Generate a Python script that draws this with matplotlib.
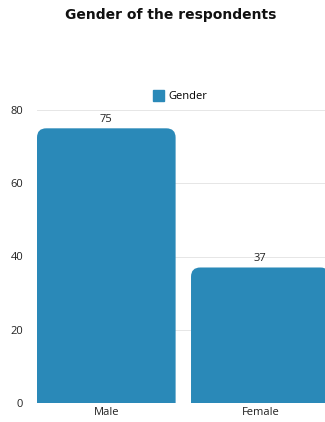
import matplotlib.pyplot as plt
from matplotlib.patches import FancyBboxPatch, Patch

categories = ['Male', 'Female']
counts = [75, 37]
yticks = [0, 20, 40, 60, 80]

bar_color = '#2a89b8'

plt.rcParams['font.family'] = ['Open Sans', 'DejaVu Sans']

fig = plt.figure(figsize=(3.25, 4.22), dpi=100)
ax = fig.add_axes([37/325, 19/422, 288/325, 293/422])

bars = ax.bar(range(len(categories)), counts, width=0.9, color=bar_color)
ax.set_xlim(-0.45, 1.42)
ax.set_ylim(0, 80)

# swap plain bars for ones with rounded top corners (bottom corners fall below 0 and get clipped)
r = 0.06
asp = 80 / 293 * 288 / 1.87
for b in bars:
    x, y = b.get_x(), b.get_y()
    w, h = b.get_width(), b.get_height()
    b.set_visible(False)
    ax.add_patch(FancyBboxPatch((x + r, y), w - 2*r, h - r*asp,
                                boxstyle='round,pad=%f' % r, mutation_aspect=asp,
                                color=bar_color, lw=0))
    ax.text(x + w/2, h + 1.0, str(h), ha='center', va='bottom', fontsize=8, color='#222222')

ax.set_xticks(range(len(categories)))
ax.set_xticklabels(categories, fontsize=8, color='#222222')
ax.set_yticks(yticks)
ax.set_yticklabels([str(t) for t in yticks], fontsize=8, color='#222222')
ax.tick_params(length=0, pad=10)
ax.tick_params(axis='x', pad=3)
ax.grid(axis='y', color='#e6e6e6', lw=0.7)
ax.set_axisbelow(True)
for s in ax.spines.values():
    s.set_visible(False)

fig.text(171/325, 1 - 15/422, 'Gender of the respondents', ha='center', va='center',
         fontsize=10, fontweight='bold', family=['DejaVu Sans'], color='#111111')
fig.legend(handles=[Patch(color=bar_color, label='Gender')], loc='center',
           bbox_to_anchor=(180/325, 1 - 96/422), frameon=False, fontsize=8,
           handlelength=1.0, handleheight=1.2, handletextpad=0.4)

fig.savefig('out.png', dpi=100)
